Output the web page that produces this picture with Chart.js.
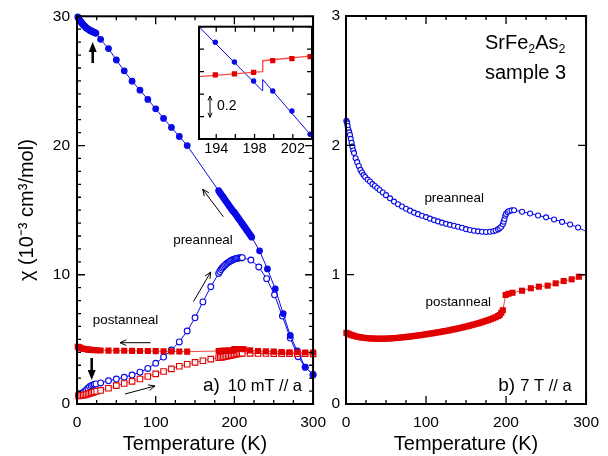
<!DOCTYPE html>
<html>
<head>
<meta charset="utf-8">
<script src="https://cdn.jsdelivr.net/npm/chart.js@4.4.1/dist/chart.umd.min.js"></script>
<style>
  body { margin: 0; background: #fff; }
  #wrap { position: relative; width: 608px; height: 456px; }
  canvas { position: absolute; }
</style>
</head>
<body>
<div id="wrap">
  <canvas id="chartA" width="335" height="456" style="left:0;top:0"></canvas>
  <canvas id="chartB" width="308" height="456" style="left:300px;top:0"></canvas>
  <canvas id="inset" width="130" height="140" style="left:190px;top:20px"></canvas>
</div>
<script>
// ---- a) 10 mT // a ----
// preanneal, cooling (filled circles)
const tPreFC = [1, 2, 3, 4, 5, 6, 7, 8, 9, 10, 11, 12, 13, 14, 15, 16, 17, 18, 19, 20, 21, 22, 23, 24,
  30, 40, 50, 60, 70, 80, 90, 100, 110, 120, 130, 140,
  180, 181.5, 183, 184.5, 186, 187.5, 189, 190.5, 192, 193.5, 195, 196.5, 198, 199.5, 201, 202.5, 204, 205.5, 207, 208.5, 210, 211.5, 213, 214.5, 216, 217.5, 219, 220.5, 222,
  232, 242, 252, 262, 271, 280, 290, 300];
const chiPreFC = [29.95, 29.85, 29.75, 29.65, 29.56, 29.48, 29.41, 29.34, 29.27, 29.21, 29.15, 29.1, 29.05, 29.01, 28.97, 28.93, 28.9, 28.87, 28.84, 28.81, 28.78, 28.75, 28.72, 28.69,
  28.22, 27.5, 26.62, 25.78, 24.98, 24.28, 23.57, 22.84, 22.1, 21.4, 20.7, 20.0,
  16.5, 16.37, 16.24, 16.11, 15.98, 15.85, 15.72, 15.59, 15.46, 15.33, 15.2, 15.07, 14.93, 14.86, 14.73, 14.6, 14.47, 14.34, 14.21, 14.08, 13.95, 13.82, 13.69, 13.56, 13.43, 13.3, 13.17, 13.04, 12.91,
  11.85, 10.45, 8.9, 7.0, 5.3, 4.1, 2.85, 2.25];
// preanneal, warming (open circles)
const tPreZFC = [2, 4, 6, 8, 10, 12, 14, 16, 18, 20, 22, 24,
  30, 40, 50, 60, 70, 80, 90, 100, 110, 120, 130, 140, 150, 160, 170,
  180, 181.5, 183, 184.5, 186, 187.5, 189, 190.5, 192, 193.5, 195, 196.5, 198, 199.5, 201, 202.5, 204, 205.5, 207, 208.5, 210,
  221, 231, 241, 251, 261, 271, 281, 290, 300];
const chiPreZFC = [0.72, 0.76, 0.82, 0.9, 0.99, 1.1, 1.22, 1.33, 1.42, 1.48, 1.52, 1.55,
  1.63, 1.8, 1.93, 2.07, 2.24, 2.46, 2.75, 3.15, 3.63, 4.18, 4.8, 5.65, 6.67, 7.9, 9.07,
  10.1, 10.25, 10.4, 10.52, 10.62, 10.71, 10.8, 10.87, 10.94, 11.0, 11.06, 11.11, 11.16, 11.2, 11.23, 11.26, 11.28, 11.3, 11.31, 11.32, 11.32,
  11.14, 10.6, 9.7, 8.45, 6.8, 5.1, 3.66, 2.85, 2.28];
// postanneal, cooling (filled squares)
const tPostFC = [1, 2, 3, 4, 6, 8, 10, 12, 14, 16, 18, 20, 22, 25,
  30, 40, 50, 60, 70, 80, 90, 100, 110, 120, 130, 140,
  180, 183, 186, 189, 192, 195, 198, 200, 203, 206, 209, 212,
  220, 230, 240, 250, 260, 270, 280, 290, 300];
const chiPostFC = [4.43, 4.4, 4.37, 4.34, 4.3, 4.27, 4.25, 4.23, 4.21, 4.2, 4.19, 4.18, 4.17, 4.16,
  4.14, 4.13, 4.12, 4.12, 4.11, 4.1, 4.1, 4.09, 4.08, 4.07, 4.06, 4.05,
  4.1, 4.11, 4.12, 4.13, 4.13, 4.14, 4.15, 4.25, 4.26, 4.26, 4.25, 4.24,
  4.15, 4.1, 4.07, 4.05, 4.03, 4.01, 4.0, 3.99, 3.98];
// postanneal, warming (open squares)
const tPostZFC = [2, 4, 6, 8, 10, 12, 14, 16, 18, 20, 22, 25,
  30, 40, 50, 60, 70, 80, 90, 100, 110, 120, 130, 140, 150, 160, 170,
  180, 182, 184, 186, 188, 190, 192, 194, 196, 198, 200, 202, 204, 206, 208, 210,
  220, 230, 240, 250, 260, 270, 280, 290, 300];
const chiPostZFC = [0.63, 0.64, 0.66, 0.68, 0.71, 0.74, 0.78, 0.82, 0.86, 0.9, 0.94, 0.99,
  1.05, 1.22, 1.42, 1.59, 1.75, 1.93, 2.13, 2.33, 2.52, 2.72, 2.92, 3.08, 3.22, 3.35, 3.47,
  3.58, 3.6, 3.62, 3.64, 3.66, 3.69, 3.71, 3.74, 3.77, 3.8, 3.83, 3.86, 3.88, 3.9, 3.91, 3.92,
  3.92, 3.91, 3.91, 3.9, 3.9, 3.9, 3.89, 3.89, 3.88];

// ---- b) 7 T // a ----
const tPre7T = [0.5, 1, 1.5, 2, 3, 4, 5, 6, 7, 8, 9, 10, 12, 14, 16, 18, 20, 22, 24, 27,
  30, 33, 36, 39, 42, 46, 50, 55, 60, 65, 70, 75, 80, 85, 90, 95, 100, 105, 110, 115,
  120, 125, 130, 135, 140, 145, 150, 155, 160, 165, 170, 175, 180, 184, 187, 190, 192, 194, 196, 197,
  198, 199, 200, 202, 204, 207, 210, 220, 230, 240, 250, 260, 270, 280, 290, 300];
const chiPre7T = [2.19, 2.18, 2.17, 2.15, 2.12, 2.1, 2.08, 2.05, 2.02, 1.99, 1.96, 1.94, 1.9, 1.87, 1.84, 1.81, 1.79, 1.77, 1.755, 1.735,
  1.72, 1.7, 1.685, 1.67, 1.655, 1.635, 1.615, 1.59, 1.565, 1.545, 1.527, 1.51, 1.495, 1.48, 1.468, 1.456, 1.445, 1.433, 1.422, 1.412,
  1.402, 1.393, 1.385, 1.378, 1.371, 1.363, 1.352, 1.345, 1.34, 1.335, 1.332, 1.33, 1.332, 1.336, 1.342, 1.35, 1.358, 1.37, 1.39, 1.41,
  1.43, 1.455, 1.47, 1.485, 1.492, 1.497, 1.498, 1.487, 1.473, 1.458, 1.443, 1.427, 1.408, 1.388, 1.365, 1.335];
const tPost7T = [0.5, 2, 4, 6, 8, 10, 13, 16, 19, 22, 25, 28, 31, 34, 37, 40, 43, 46, 49, 52,
  55, 58, 61, 64, 67, 70, 73, 76, 79, 82, 85, 88, 91, 94, 97, 100, 103, 106, 109, 112,
  115, 118, 121, 124, 127, 130, 133, 136, 139, 142, 145, 148, 151, 154, 157, 160, 163, 166, 169, 172,
  175, 178, 181, 184, 187, 190, 192, 194, 196, 199.5, 203, 208, 220, 231, 241, 252, 262, 272, 282, 291, 300];
const chiPost7T = [0.55, 0.545, 0.54, 0.535, 0.531, 0.527, 0.522, 0.518, 0.515, 0.512, 0.51, 0.508, 0.507, 0.506, 0.505, 0.505, 0.505, 0.505, 0.505, 0.506,
  0.507, 0.508, 0.51, 0.511, 0.513, 0.515, 0.517, 0.519, 0.521, 0.523, 0.526, 0.528, 0.531, 0.533, 0.536, 0.539, 0.542, 0.545, 0.548, 0.551,
  0.554, 0.557, 0.561, 0.564, 0.567, 0.571, 0.575, 0.579, 0.583, 0.587, 0.591, 0.596, 0.6, 0.605, 0.61, 0.615, 0.62, 0.625, 0.631, 0.637,
  0.643, 0.649, 0.656, 0.663, 0.671, 0.68, 0.688, 0.705, 0.725, 0.843, 0.852, 0.86, 0.876, 0.895, 0.907, 0.915, 0.933, 0.951, 0.964, 0.984, 1.0];

// ---- inset (offset scale, 0.2 per tick) ----
const tInset = [193.9, 195.9, 197.9, 199.9, 201.9, 203.8];
const chiInsetBlue = [0.861, 0.686, 0.516, 0.427, 0.249, 0.042];
const chiInsetRed = [0.57, 0.579, 0.594, 0.697, 0.715, 0.733];
const tInsetLine = [192.2, 198.8, 198.85, 204];
const chiInsetBlueLine = [1.0, 0.43, 0.53, 0.022];
const chiInsetRedLine = [0.555, 0.6, 0.697, 0.74];

// tick labels
const xLabels = [0, 100, 200, 300];
const yLabelsA = [0, 10, 20, 30];
const yLabelsB = [0, 1, 2, 3];
const xLabelsInset = [194, 198, 202];

const FONT = "'Liberation Sans', Arial, Helvetica, sans-serif";
const BLUE = '#0a0ae6';
const RED = '#e00000';
const RED_LINE = '#f04545';

Chart.defaults.font.family = FONT;
Chart.defaults.color = '#000';

function pts(xs, ys) {
  return xs.map((x, i) => ({x: x, y: ys[i]}));
}

function series(xs, ys, style) {
  return Object.assign({
    data: pts(xs, ys),
    showLine: true,
    borderWidth: 1,
    tension: 0,
    clip: 6
  }, style);
}

function tickList(min, max, step) {
  const out = [];
  for (let v = Math.ceil(min / step - 1e-6) * step; v <= max + 1e-6; v += step) out.push(+v.toFixed(6));
  return out;
}

// frame + inward ticks on all four sides
const frameTicks = {
  id: 'frameTicks',
  beforeDatasetsDraw(chart, args, o) {
    if (!o.fill) return;
    const a = chart.chartArea;
    chart.ctx.save();
    chart.ctx.fillStyle = o.fill;
    chart.ctx.fillRect(a.left, a.top, a.width, a.height);
    chart.ctx.restore();
  },
  afterDatasetsDraw(chart, args, o) {
    const {ctx, chartArea: a} = chart;
    const x = chart.scales.x, y = chart.scales.y;
    const isMajor = (v, m) => Math.abs(v / m - Math.round(v / m)) < 1e-6;
    ctx.save();
    ctx.strokeStyle = '#000';
    ctx.lineWidth = 1.3;
    ctx.beginPath();
    tickList(x.min, x.max, o.xStep).forEach(v => {
      const px = x.getPixelForValue(v);
      const len = isMajor(v, o.xMajor) ? o.major : o.minor;
      ctx.moveTo(px, a.bottom); ctx.lineTo(px, a.bottom - len);
      ctx.moveTo(px, a.top); ctx.lineTo(px, a.top + len);
    });
    tickList(y.min, y.max, o.yStep).forEach(v => {
      const py = y.getPixelForValue(v);
      const len = isMajor(v, o.yMajor) ? o.major : o.minor;
      ctx.moveTo(a.left, py); ctx.lineTo(a.left + len, py);
      ctx.moveTo(a.right, py); ctx.lineTo(a.right - len, py);
    });
    ctx.stroke();
    ctx.lineWidth = 2;
    ctx.strokeRect(a.left, a.top, a.width, a.height);
    ctx.restore();
  }
};

function drawArrow(ctx, a) {
  const ang = Math.atan2(a.y2 - a.y1, a.x2 - a.x1);
  const cos = Math.cos(ang), sin = Math.sin(ang);
  ctx.lineWidth = a.lw || 1;
  if (a.arrow === 'filled') {
    const hl = 10, hw = 4;
    ctx.beginPath();
    ctx.moveTo(a.x1, a.y1);
    ctx.lineTo(a.x2 - hl * cos, a.y2 - hl * sin);
    ctx.stroke();
    ctx.beginPath();
    ctx.moveTo(a.x2, a.y2);
    ctx.lineTo(a.x2 - hl * cos - hw * sin, a.y2 - hl * sin + hw * cos);
    ctx.lineTo(a.x2 - hl * cos + hw * sin, a.y2 - hl * sin - hw * cos);
    ctx.closePath();
    ctx.fill();
    return;
  }
  const hl = a.hl || 7, spread = 0.42;
  const head = (tx, ty, dir) => {
    ctx.moveTo(tx - hl * Math.cos(dir - spread), ty - hl * Math.sin(dir - spread));
    ctx.lineTo(tx, ty);
    ctx.lineTo(tx - hl * Math.cos(dir + spread), ty - hl * Math.sin(dir + spread));
  };
  ctx.beginPath();
  ctx.moveTo(a.x1, a.y1);
  ctx.lineTo(a.x2, a.y2);
  head(a.x2, a.y2, ang);
  if (a.arrow === 'both') head(a.x1, a.y1, ang + Math.PI);
  ctx.stroke();
}

// text labels and arrows, in canvas pixels
const notes = {
  id: 'notes',
  afterDraw(chart, args, o) {
    const ctx = chart.ctx;
    ctx.save();
    ctx.fillStyle = '#000';
    ctx.strokeStyle = '#000';
    ctx.textBaseline = 'middle';
    (o.items || []).forEach(it => {
      if (it.arrow) {
        drawArrow(ctx, it);
      } else if (it.rich) {
        let x = it.x;
        ctx.textAlign = 'left';
        it.rich.forEach(([s, sub]) => {
          const size = sub ? it.size * 0.62 : it.size;
          ctx.font = size + 'px ' + FONT;
          ctx.fillText(s, x, it.y + (sub ? it.size * 0.32 : 0));
          x += ctx.measureText(s).width;
        });
      } else {
        ctx.font = it.size + 'px ' + FONT;
        ctx.textAlign = it.align || 'left';
        ctx.fillText(it.text, it.x, it.y);
      }
    });
    ctx.restore();
  }
};

function xScale(min, max, labels, opts) {
  return Object.assign({
    type: 'linear',
    min: min,
    max: max,
    afterBuildTicks: s => { s.ticks = labels.map(v => ({value: v})); },
    ticks: {font: {size: 15.5}, color: '#000', padding: 9, maxRotation: 0, autoSkip: false},
    grid: {display: false, drawTicks: false},
    border: {display: false},
    title: {display: true, text: 'Temperature (K)', font: {size: 20}, color: '#000', padding: 0},
    afterFit: s => { s.height = 52; }
  }, opts || {});
}

function yScale(min, max, labels, width, pad, title) {
  return {
    type: 'linear',
    min: min,
    max: max,
    afterBuildTicks: s => { s.ticks = labels.map(v => ({value: v})); },
    ticks: {font: {size: 15.5}, color: '#000', padding: pad, autoSkip: false},
    grid: {display: false, drawTicks: false},
    border: {display: false},
    title: title ? {display: true, text: title, font: {size: 20}, color: '#000', padding: {top: 15, bottom: 0}} : {display: false},
    afterFit: s => { s.width = width; }
  };
}

const common = {
  responsive: false,
  animation: false,
  devicePixelRatio: 1,
  events: []
};

new Chart(document.getElementById('chartA'), {
  type: 'line',
  plugins: [frameTicks, notes],
  data: {
    datasets: [
      series(tPostFC, chiPostFC, {borderColor: RED_LINE, pointStyle: 'rect', pointRadius: 4.3,
        pointBackgroundColor: RED, pointBorderColor: RED, pointBorderWidth: 0}),
      series(tPostZFC, chiPostZFC, {borderColor: RED_LINE, pointStyle: 'rect', pointRadius: 3.9,
        pointBackgroundColor: '#fff', pointBorderColor: RED, pointBorderWidth: 1.1}),
      series(tPreFC, chiPreFC, {borderColor: BLUE, pointStyle: 'circle', pointRadius: 3.4,
        pointBackgroundColor: BLUE, pointBorderColor: BLUE, pointBorderWidth: 0}),
      series(tPreZFC, chiPreZFC, {borderColor: BLUE, pointStyle: 'circle', pointRadius: 2.9,
        pointBackgroundColor: '#fff', pointBorderColor: BLUE, pointBorderWidth: 1.1})
    ]
  },
  options: Object.assign({}, common, {
    layout: {padding: {top: 16, right: 17, left: 0, bottom: 0}},
    plugins: {
      legend: {display: false},
      tooltip: {enabled: false},
      frameTicks: {xStep: 25, xMajor: 100, yStep: 1, yMajor: 10, major: 8, minor: 4},
      notes: {items: [
        {arrow: 'filled', x1: 92.7, y1: 63, x2: 92.7, y2: 42, lw: 2.5},
        {arrow: 'filled', x1: 91.7, y1: 358, x2: 91.7, y2: 380, lw: 2.5},
        {arrow: 'open', x1: 223.3, y1: 216.7, x2: 202.7, y2: 189.3},
        {arrow: 'open', x1: 193.5, y1: 301.5, x2: 210.7, y2: 272},
        {arrow: 'open', x1: 150.7, y1: 342.7, x2: 120, y2: 342.7},
        {arrow: 'open', x1: 125, y1: 394, x2: 155, y2: 386},
        {text: 'preanneal', x: 203, y: 240.7, size: 13.4, align: 'center'},
        {text: 'postanneal', x: 125.5, y: 320.7, size: 13.4, align: 'center'},
        {text: 'a)', x: 203, y: 385.7, size: 19},
        {text: '10 mT // a', x: 302, y: 386.5, size: 16.5, align: 'right'}
      ]}
    },
    scales: {
      x: xScale(0, 300, xLabels),
      y: yScale(0, 30, yLabelsA, 77, 7, 'χ (10⁻³ cm³/mol)')
    }
  })
});

new Chart(document.getElementById('chartB'), {
  type: 'line',
  plugins: [frameTicks, notes],
  data: {
    datasets: [
      series(tPost7T, chiPost7T, {borderColor: RED_LINE, pointStyle: 'rect',
        pointRadius: c => (c.raw && c.raw.x >= 300 ? 0 : 4.3),
        pointBackgroundColor: RED, pointBorderColor: RED, pointBorderWidth: 0}),
      series(tPre7T, chiPre7T, {borderColor: BLUE, pointStyle: 'circle',
        pointRadius: c => (c.raw && c.raw.x >= 300 ? 0 : 2.5),
        pointBackgroundColor: '#fff', pointBorderColor: BLUE, pointBorderWidth: 1.1})
    ]
  },
  options: Object.assign({}, common, {
    layout: {padding: {top: 16, right: 21, left: 0, bottom: 0}},
    plugins: {
      legend: {display: false},
      tooltip: {enabled: false},
      frameTicks: {xStep: 25, xMajor: 100, yStep: 1, yMajor: 1, major: 8, minor: 4},
      notes: {items: [
        {rich: [['SrFe', 0], ['2', 1], ['As', 0], ['2', 1]], x: 185, y: 43.3, size: 20},
        {text: 'sample 3', x: 185, y: 73.3, size: 20},
        {text: 'preanneal', x: 154.2, y: 198.3, size: 13.4, align: 'center'},
        {text: 'postanneal', x: 158.3, y: 302.7, size: 13.4, align: 'center'},
        {text: 'b)', x: 198.3, y: 385.7, size: 19},
        {text: '7 T // a', x: 271.7, y: 386.5, size: 16.5, align: 'right'}
      ]}
    },
    scales: {
      x: xScale(0, 300, xLabels),
      y: yScale(0, 3, yLabelsB, 46, 6)
    }
  })
});

new Chart(document.getElementById('inset'), {
  type: 'line',
  plugins: [frameTicks, notes],
  data: {
    datasets: [
      series(tInset, chiInsetRed, {showLine: false, pointStyle: 'rect', pointRadius: 3.7,
        pointBackgroundColor: RED, pointBorderColor: RED, pointBorderWidth: 0}),
      series(tInset, chiInsetBlue, {showLine: false, pointStyle: 'circle', pointRadius: 2.7,
        pointBackgroundColor: BLUE, pointBorderColor: BLUE, pointBorderWidth: 0}),
      series(tInsetLine, chiInsetRedLine, {borderColor: '#ff4a4a', borderWidth: 1.4, pointRadius: 0}),
      series(tInsetLine, chiInsetBlueLine, {borderColor: BLUE, borderWidth: 1, pointRadius: 0})
    ]
  },
  options: Object.assign({}, common, {
    layout: {padding: {top: 6.7, right: 8, left: 9, bottom: 0}},
    plugins: {
      legend: {display: false},
      tooltip: {enabled: false},
      frameTicks: {fill: '#fff', xStep: 2, xMajor: 2, yStep: 0.2, yMajor: 0.2, major: 5, minor: 5},
      notes: {items: [
        {arrow: 'both', x1: 20, y1: 76, x2: 20, y2: 97.3, hl: 5},
        {text: '0.2', x: 27, y: 86, size: 14}
      ]}
    },
    scales: {
      x: xScale(192.2, 204, xLabelsInset, {
        ticks: {font: {size: 14.5}, color: '#000', padding: 1, maxRotation: 0, autoSkip: false},
        title: {display: false},
        afterFit: s => { s.height = 21; }
      }),
      y: {type: 'linear', min: 0, max: 1, display: false}
    }
  })
});
</script>
</body>
</html>
